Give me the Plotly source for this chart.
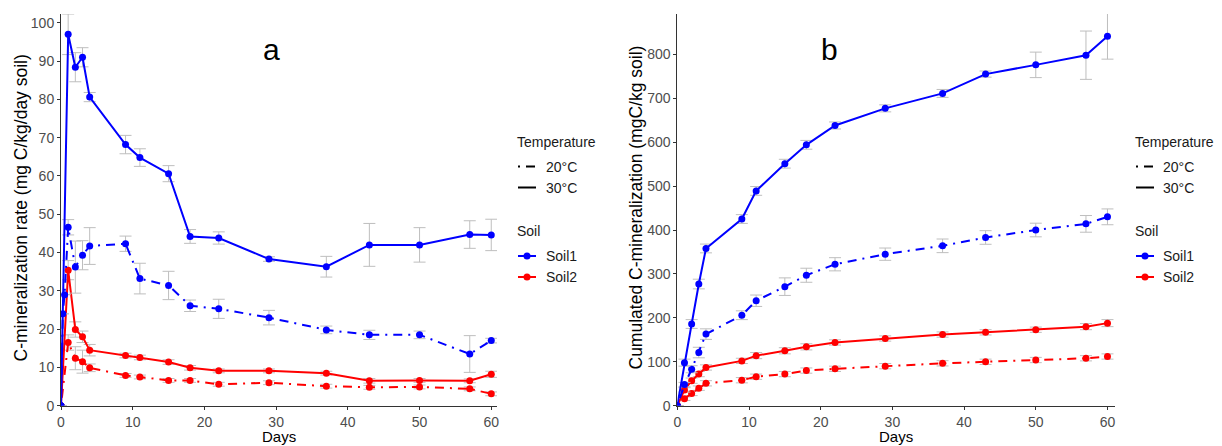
import plotly.graph_objects as go

# ---------------- data ----------------
DAYS = [0, 1, 2, 3, 4, 9, 11, 15, 18, 22, 29, 37, 43, 50, 57, 60]
EARLY_DAYS_S1_20 = [0.25, 0.5]

# Panel a: C-mineralization rate (mg C/kg/day soil)
rate_s1_30 = [0, 97.0, 88.4, 91.0, 80.6, 68.2, 64.8, 60.6, 44.2, 43.8, 38.3, 36.3, 42.0, 42.0, 44.7, 44.6]
rate_s1_30_err = [0, 5.3, 3.8, 2.5, 1.2, 2.4, 2.3, 2.1, 1.8, 1.6, 0.6, 2.7, 5.6, 4.5, 3.6, 4.1]
rate_s1_20 = [0, 46.6, 36.2, 39.3, 41.7, 42.3, 33.2, 31.4, 26.1, 25.3, 23.0, 19.8, 18.5, 18.5, 13.5, 17.0]
rate_s1_20_err = [0, 2.0, 6.8, 3.8, 4.8, 2.0, 4.0, 3.7, 1.5, 2.5, 1.9, 1.0, 1.2, 1.0, 4.8, 0.6]
rate_s1_20_early = [24.0, 29.0]
rate_s2_30 = [0, 35.4, 19.9, 18.0, 14.5, 13.1, 12.6, 11.4, 9.9, 9.1, 9.1, 8.5, 6.5, 6.6, 6.5, 8.2]
rate_s2_30_err = [0, 2.5, 2.0, 1.5, 1.5, 0.6, 0.6, 0.6, 0.6, 0.5, 0.5, 0.5, 0.6, 0.5, 0.5, 0.8]
rate_s2_20 = [0, 16.5, 12.4, 11.5, 9.9, 7.9, 7.5, 6.6, 6.6, 5.6, 6.0, 5.1, 4.8, 4.9, 4.4, 3.1]
rate_s2_20_err = [0, 2.0, 3.0, 3.0, 1.0, 0.5, 0.5, 0.5, 0.5, 0.5, 0.5, 0.5, 0.5, 0.5, 0.5, 0.5]

# Panel b: Cumulated C-mineralization (mgC/kg soil)
cum_s1_30 = [0, 98, 186, 277, 358, 425, 489, 551, 594, 638, 677, 711, 755, 776, 798, 841]
cum_s1_30_err = [0, 8, 10, 11, 10, 10, 10, 10, 10, 8, 8, 9, 7, 29, 55, 52]
cum_s1_20 = [0, 48, 83, 121, 163, 206, 239, 271, 297, 322, 345, 364, 383, 400, 414, 430]
cum_s1_20_err = [0, 5, 8, 12, 12, 10, 13, 20, 16, 15, 14, 15.5, 15.5, 15.5, 19, 18]
cum_s2_30 = [0, 36, 57, 72, 87, 102, 114, 125, 134, 144, 153, 162, 167, 173, 180, 188]
cum_s2_30_err = [0, 5, 6, 6, 6, 6, 7, 7, 7, 6, 6, 6, 6, 6, 7, 8]
cum_s2_20 = [0, 16, 28, 40, 51, 58, 66, 72, 80, 84, 90, 96.5, 100, 104, 108, 112]
cum_s2_20_err = [0, 4, 5, 5, 6, 6, 6, 6, 6, 6, 6, 6, 6, 6, 6, 6]

X_TICKS = [0, 10, 20, 30, 40, 50, 60]
Y_TICKS_A = [0, 10, 20, 30, 40, 50, 60, 70, 80, 90, 100]
Y_TICKS_B = [0, 100, 200, 300, 400, 500, 600, 700, 800]

TEMP_LABELS = ["20°C", "30°C"]
SOIL_LABELS = ["Soil1", "Soil2"]

# ---------------- style ----------------
OFF = 8  # page body margin
W, H = 1222 - OFF, 446 - OFF
BLUE = "#0000FF"
RED = "#FF0000"
ERR = "#BEBEBE"
AXIS = "#333333"
TICKFONT = "#4D4D4D"
FONT = "Arial, Liberation Sans, sans-serif"
DOTDASH = "2px,6px,9px,6px"


def px(x):
    return (x - OFF) / W


def py(y):
    return 1 - (y - OFF) / H


fig = go.Figure()


def add_series(xs, ys, errs, color, dash, xa, ya):
    fig.add_trace(go.Scatter(
        x=xs, y=ys, mode="lines+markers",
        line=dict(color=color, width=2, dash=dash),
        marker=dict(color=color, size=7),
        error_y=dict(type="data", array=errs, visible=True, color=ERR,
                     thickness=1, width=6),
        xaxis=xa, yaxis=ya, showlegend=False, hoverinfo="x+y",
    ))


# panel a
s1_20_x = [DAYS[0]] + EARLY_DAYS_S1_20 + DAYS[1:]
s1_20_y = [rate_s1_20[0]] + rate_s1_20_early + rate_s1_20[1:]
s1_20_e = [rate_s1_20_err[0]] + [0] * len(EARLY_DAYS_S1_20) + rate_s1_20_err[1:]
add_series(DAYS, rate_s2_20, rate_s2_20_err, RED, DOTDASH, "x", "y")
add_series(DAYS, rate_s2_30, rate_s2_30_err, RED, "solid", "x", "y")
add_series(s1_20_x, s1_20_y, s1_20_e, BLUE, DOTDASH, "x", "y")
add_series(DAYS, rate_s1_30, rate_s1_30_err, BLUE, "solid", "x", "y")

# panel b
add_series(DAYS, cum_s2_20, cum_s2_20_err, RED, DOTDASH, "x2", "y2")
add_series(DAYS, cum_s2_30, cum_s2_30_err, RED, "solid", "x2", "y2")
add_series(DAYS, cum_s1_20, cum_s1_20_err, BLUE, DOTDASH, "x2", "y2")
add_series(DAYS, cum_s1_30, cum_s1_30_err, BLUE, "solid", "x2", "y2")

ydom = [py(405.7), py(14)]
axis_common = dict(
    showline=True, linecolor=AXIS, linewidth=1, ticks="outside", ticklen=3,
    tickcolor=AXIS, tickwidth=1, showgrid=False, zeroline=False,
    tickfont=dict(family=FONT, size=14, color=TICKFONT), automargin=False,
)

fig.update_layout(
    width=W, height=H, autosize=False,
    margin=dict(l=0, r=0, t=0, b=0),
    paper_bgcolor="white", plot_bgcolor="white",
    font=dict(family=FONT, size=14, color="#1A1A1A"),
    showlegend=False,
    xaxis=dict(domain=[px(61), px(497)], range=[0, 60.8], tickvals=X_TICKS,
               anchor="y", **axis_common),
    yaxis=dict(domain=ydom, range=[0, 102.3], tickvals=Y_TICKS_A,
               anchor="x", **axis_common),
    xaxis2=dict(domain=[px(677.3), px(1115)], range=[0, 61.05], tickvals=X_TICKS,
                anchor="y2", **axis_common),
    yaxis2=dict(domain=ydom, range=[0, 891.8], tickvals=Y_TICKS_B,
                anchor="x2", **axis_common),
)

annotations = []
shapes = []

# axis titles
annotations.append(dict(text="C-mineralization rate (mg C/kg/day soil)", textangle=-90,
                        xref="paper", yref="paper", x=px(20), y=py(208.5),
                        xanchor="center", yanchor="middle", showarrow=False,
                        font=dict(family=FONT, size=17.5, color="black")))
annotations.append(dict(text="Cumulated C-mineralization (mgC/kg soil)", textangle=-90,
                        xref="paper", yref="paper", x=px(636), y=py(207.5),
                        xanchor="center", yanchor="middle", showarrow=False,
                        font=dict(family=FONT, size=17.5, color="black")))
for xr in ["x domain", "x2 domain"]:
    annotations.append(dict(text="Days", xref=xr, yref="paper", x=0.5, y=0,
                            xanchor="center", yanchor="bottom", showarrow=False,
                            borderpad=0,
                            font=dict(family=FONT, size=15, color="black")))

# panel labels
annotations.append(dict(text="a", xref="x", yref="y", x=29.4, y=92.9,
                        xanchor="center", yanchor="middle", showarrow=False,
                        font=dict(family=FONT, size=30, color="black")))
annotations.append(dict(text="b", xref="x2", yref="y2", x=21.25, y=810,
                        xanchor="center", yanchor="middle", showarrow=False,
                        font=dict(family=FONT, size=30, color="black")))


def legend_block(title_x, key_x0, text_x):
    key_x1 = key_x0 + 18
    mid = (key_x0 + key_x1) / 2

    def txt(s, x, y):
        annotations.append(dict(text=s, xref="paper", yref="paper", x=px(x), y=py(y),
                                xanchor="left", yanchor="middle", showarrow=False,
                                font=dict(family=FONT, size=14, color="#1A1A1A")))

    txt("Temperature", title_x, 141.7)
    for lab, dash, y in zip(TEMP_LABELS, [DOTDASH, "solid"], [166.5, 187.5]):
        shapes.append(dict(type="line", xref="paper", yref="paper",
                           x0=px(key_x0), x1=px(key_x1), y0=py(y), y1=py(y),
                           line=dict(color="black", width=2, dash=dash)))
        txt(lab, text_x, y)
    txt("Soil", title_x, 231)
    for lab, col, y in zip(SOIL_LABELS, [BLUE, RED], [256, 277]):
        shapes.append(dict(type="line", xref="paper", yref="paper",
                           x0=px(key_x0), x1=px(key_x1), y0=py(y), y1=py(y),
                           line=dict(color=col, width=2)))
        shapes.append(dict(type="circle", xref="paper", yref="paper",
                           x0=px(mid - 3.5), x1=px(mid + 3.5),
                           y0=py(y + 3.5), y1=py(y - 3.5),
                           fillcolor=col, line=dict(color=col, width=0)))
        txt(lab, text_x, y)


legend_block(515, 518, 544)
legend_block(1133, 1136, 1161)

fig.update_layout(annotations=annotations, shapes=shapes)

fig.write_html("out.html")
